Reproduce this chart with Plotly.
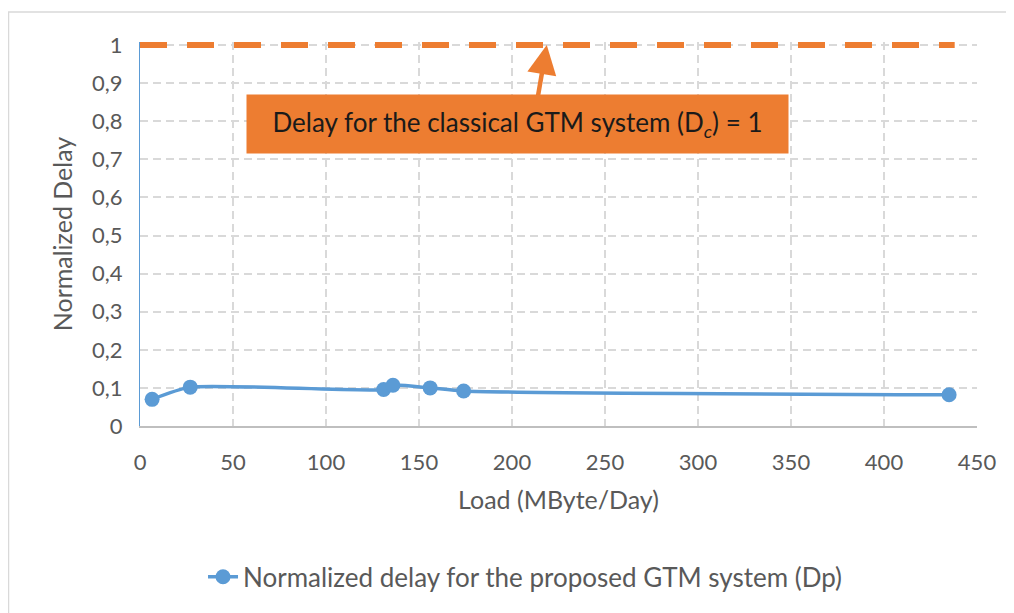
import plotly.graph_objects as go

# Data
load = [6.5, 27, 131, 136, 156, 174, 435]
delay_p = [0.070, 0.102, 0.096, 0.107, 0.100, 0.092, 0.082]
classic_x = [0, 438]
classic_y = [1, 1]

x_ticks = [0, 50, 100, 150, 200, 250, 300, 350, 400, 450]
y_ticks = [0, 0.1, 0.2, 0.3, 0.4, 0.5, 0.6, 0.7, 0.8, 0.9, 1]

FONT = "Lato"
GREY = "#595959"
BLUE = "#5b9bd5"
ORANGE = "#ed7d31"

# figure is drawn inside a page with an 8px body margin
W, H = 1006, 605
ML, MR, MT, MB = 132, 37, 34, 187
PW, PH = W - ML - MR, H - MT - MB

fig = go.Figure()
fig.add_trace(go.Scatter(
    x=classic_x, y=classic_y, mode="lines",
    line=dict(color=ORANGE, width=6, dash="27px,20px"),
    showlegend=False, hoverinfo="skip"))
fig.add_trace(go.Scatter(
    x=load, y=delay_p, mode="lines+markers",
    name="Normalized delay for the proposed GTM system (Dp)",
    line=dict(color=BLUE, width=3.5, shape="spline", smoothing=0.6),
    marker=dict(color=BLUE, size=15), cliponaxis=False))

# Arrow pointing at the classical line
fig.add_annotation(x=218.7, y=1, xref="x", yref="y", text="", showarrow=True,
                   ax=-9, ay=52, axref="pixel", ayref="pixel",
                   arrowcolor=ORANGE, arrowwidth=4.5, arrowhead=2, arrowsize=1.3)
# Label box
fig.add_annotation(x=203, y=0.794, xref="x", yref="y",
                   text="Delay for the classical GTM system (D<sub><i>c</i></sub>) = 1",
                   showarrow=False, bgcolor=ORANGE, width=541, height=58,
                   borderpad=0, font=dict(family=FONT, size=26, color="#1a1a1a"))

# Outer chart frame
fig.add_shape(type="rect", xref="paper", yref="paper",
              x0=(0.5 - ML) / PW, x1=1.1, y0=-0.6, y1=(MT + PH - 4) / PH,
              line=dict(color="#d9d9d9", width=1.5), fillcolor="rgba(0,0,0,0)", layer="below")

grid = dict(showgrid=True, gridcolor="#d9d9d9", griddash="8px,5px", gridwidth=1.5, zeroline=False)

fig.update_layout(
    width=W, height=H,
    margin=dict(l=ML, r=MR, t=MT, b=MB),
    paper_bgcolor="white", plot_bgcolor="white",
    separators=", ",
    font=dict(family=FONT, color=GREY, size=22),
    legend=dict(orientation="h", x=0.46, xanchor="center", y=-0.393, yanchor="middle",
                font=dict(size=26, color=GREY)),
    xaxis=dict(range=[0, 450], tickvals=x_ticks, **grid,
               showline=True, linecolor="#bfbfbf", linewidth=1.5,
               ticks="outside", ticklen=16, tickcolor="rgba(0,0,0,0)",
               tickfont=dict(size=22, color=GREY),
               title=dict(text="Load (MByte/Day)", font=dict(size=25, color=GREY), standoff=17)),
    yaxis=dict(range=[0, 1.008], tickvals=y_ticks, **grid,
               showline=True, linecolor=BLUE, linewidth=1,
               ticks="outside", ticklen=12, tickcolor="rgba(0,0,0,0)",
               tickfont=dict(size=22, color=GREY),
               title=dict(text="Normalized Delay", font=dict(size=25, color=GREY), standoff=12)),
)

fig.write_html("out.html")
